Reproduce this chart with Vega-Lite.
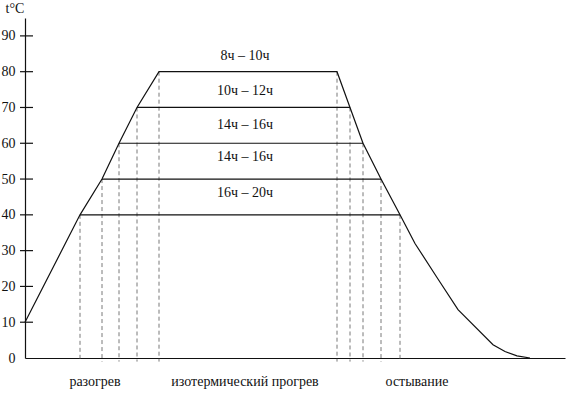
{
  "$schema": "https://vega.github.io/schema/vega-lite/v6.json",
  "width": 540,
  "height": 340,
  "autosize": {"type": "none"},
  "padding": {"left": 25, "top": 18, "right": 5, "bottom": 35},
  "background": "white",
  "config": {
    "view": {"stroke": null},
    "font": "Liberation Serif, Times New Roman, serif",
    "text": {"font": "Liberation Serif, Times New Roman, serif", "fontSize": 14, "color": "#111"}
  },
  "encoding": {
    "y": {
      "field": "t", "type": "quantitative",
      "scale": {"domain": [0, 95], "nice": false},
      "axis": {
        "title": "t°C", "titleAngle": 0, "titleAlign": "left", "titleBaseline": "alphabetic",
        "titleX": -20, "titleY": -6, "titleFont": "Liberation Serif, Times New Roman, serif", "titleFontSize": 14,
        "titleFontWeight": "normal", "titleColor": "#111",
        "values": [0, 10, 20, 30, 40, 50, 60, 70, 80, 90],
        "ticks": false, "tickSize": 0, "labelPadding": 10, "grid": false,
        "labelFont": "Liberation Serif, Times New Roman, serif", "labelFontSize": 14, "labelColor": "#111",
        "domainColor": "#111", "domainWidth": 1.2
      }
    }
  },
  "layer": [
    {
      "data": {"values": [
        {"x": 55, "t": 40}, {"x": 77, "t": 50}, {"x": 94, "t": 60}, {"x": 112, "t": 70}, {"x": 134, "t": 80},
        {"x": 312, "t": 80}, {"x": 325, "t": 70}, {"x": 338, "t": 60}, {"x": 356, "t": 50}, {"x": 375, "t": 40}
      ]},
      "mark": {"type": "rule", "strokeDash": [4, 3], "color": "#555", "strokeWidth": 0.8},
      "encoding": {
        "x": {
          "field": "x", "type": "quantitative", "title": null,
          "scale": {"domain": [0, 540], "nice": false, "zero": false},
          "axis": {"title": null, "labels": false, "ticks": false, "grid": false, "domainColor": "#111", "domainWidth": 1.2}
        },
        "y2": {"datum": -1}
      }
    },
    {
      "data": {"values": [
        {"x": 55, "x2": 375, "t": 40},
        {"x": 77, "x2": 356, "t": 50},
        {"x": 94, "x2": 338, "t": 60},
        {"x": 112, "x2": 325, "t": 70}
      ]},
      "mark": {"type": "rule", "color": "#111", "strokeWidth": 1.2},
      "encoding": {
        "x": {"field": "x", "type": "quantitative", "title": null},
        "x2": {"field": "x2"}
      }
    },
    {
      "data": {"values": [
        {"o": 1, "x": 0, "t": 10},
        {"o": 2, "x": 55, "t": 40},
        {"o": 3, "x": 77, "t": 50},
        {"o": 4, "x": 94, "t": 60},
        {"o": 5, "x": 112, "t": 70},
        {"o": 6, "x": 134, "t": 80},
        {"o": 7, "x": 312, "t": 80},
        {"o": 8, "x": 325, "t": 70},
        {"o": 9, "x": 338, "t": 60},
        {"o": 10, "x": 356, "t": 50},
        {"o": 11, "x": 375, "t": 40},
        {"o": 12, "x": 390, "t": 32},
        {"o": 13, "x": 412, "t": 22.5},
        {"o": 14, "x": 433, "t": 13.5},
        {"o": 15, "x": 468, "t": 3.7},
        {"o": 16, "x": 480, "t": 1.8},
        {"o": 17, "x": 492, "t": 0.6},
        {"o": 18, "x": 505, "t": 0}
      ]},
      "mark": {"type": "line", "color": "#111", "strokeWidth": 1.2},
      "encoding": {
        "x": {"field": "x", "type": "quantitative", "title": null},
        "order": {"field": "o", "type": "quantitative"}
      }
    },
    {
      "data": {"values": [
        {"t": 10}, {"t": 20}, {"t": 30}, {"t": 40}, {"t": 50}, {"t": 60}, {"t": 70}, {"t": 80}, {"t": 90}
      ]},
      "mark": {"type": "rule", "color": "#111", "strokeWidth": 1.2},
      "encoding": {"x": {"datum": -5, "type": "quantitative", "title": null}, "x2": {"datum": 8}}
    },
    {
      "data": {"values": [
        {"x": 220, "t": 84.5, "label": "8ч – 10ч"},
        {"x": 220, "t": 74.7, "label": "10ч – 12ч"},
        {"x": 220, "t": 65.2, "label": "14ч – 16ч"},
        {"x": 220, "t": 56.2, "label": "14ч – 16ч"},
        {"x": 220, "t": 46, "label": "16ч – 20ч"},
        {"x": 70, "t": -6.7, "label": "разогрев"},
        {"x": 220, "t": -6.7, "label": "изотермический прогрев"},
        {"x": 392, "t": -6.7, "label": "остывание"}
      ]},
      "mark": {"type": "text", "align": "center", "baseline": "middle"},
      "encoding": {
        "x": {"field": "x", "type": "quantitative", "title": null},
        "text": {"field": "label"}
      }
    }
  ]
}
